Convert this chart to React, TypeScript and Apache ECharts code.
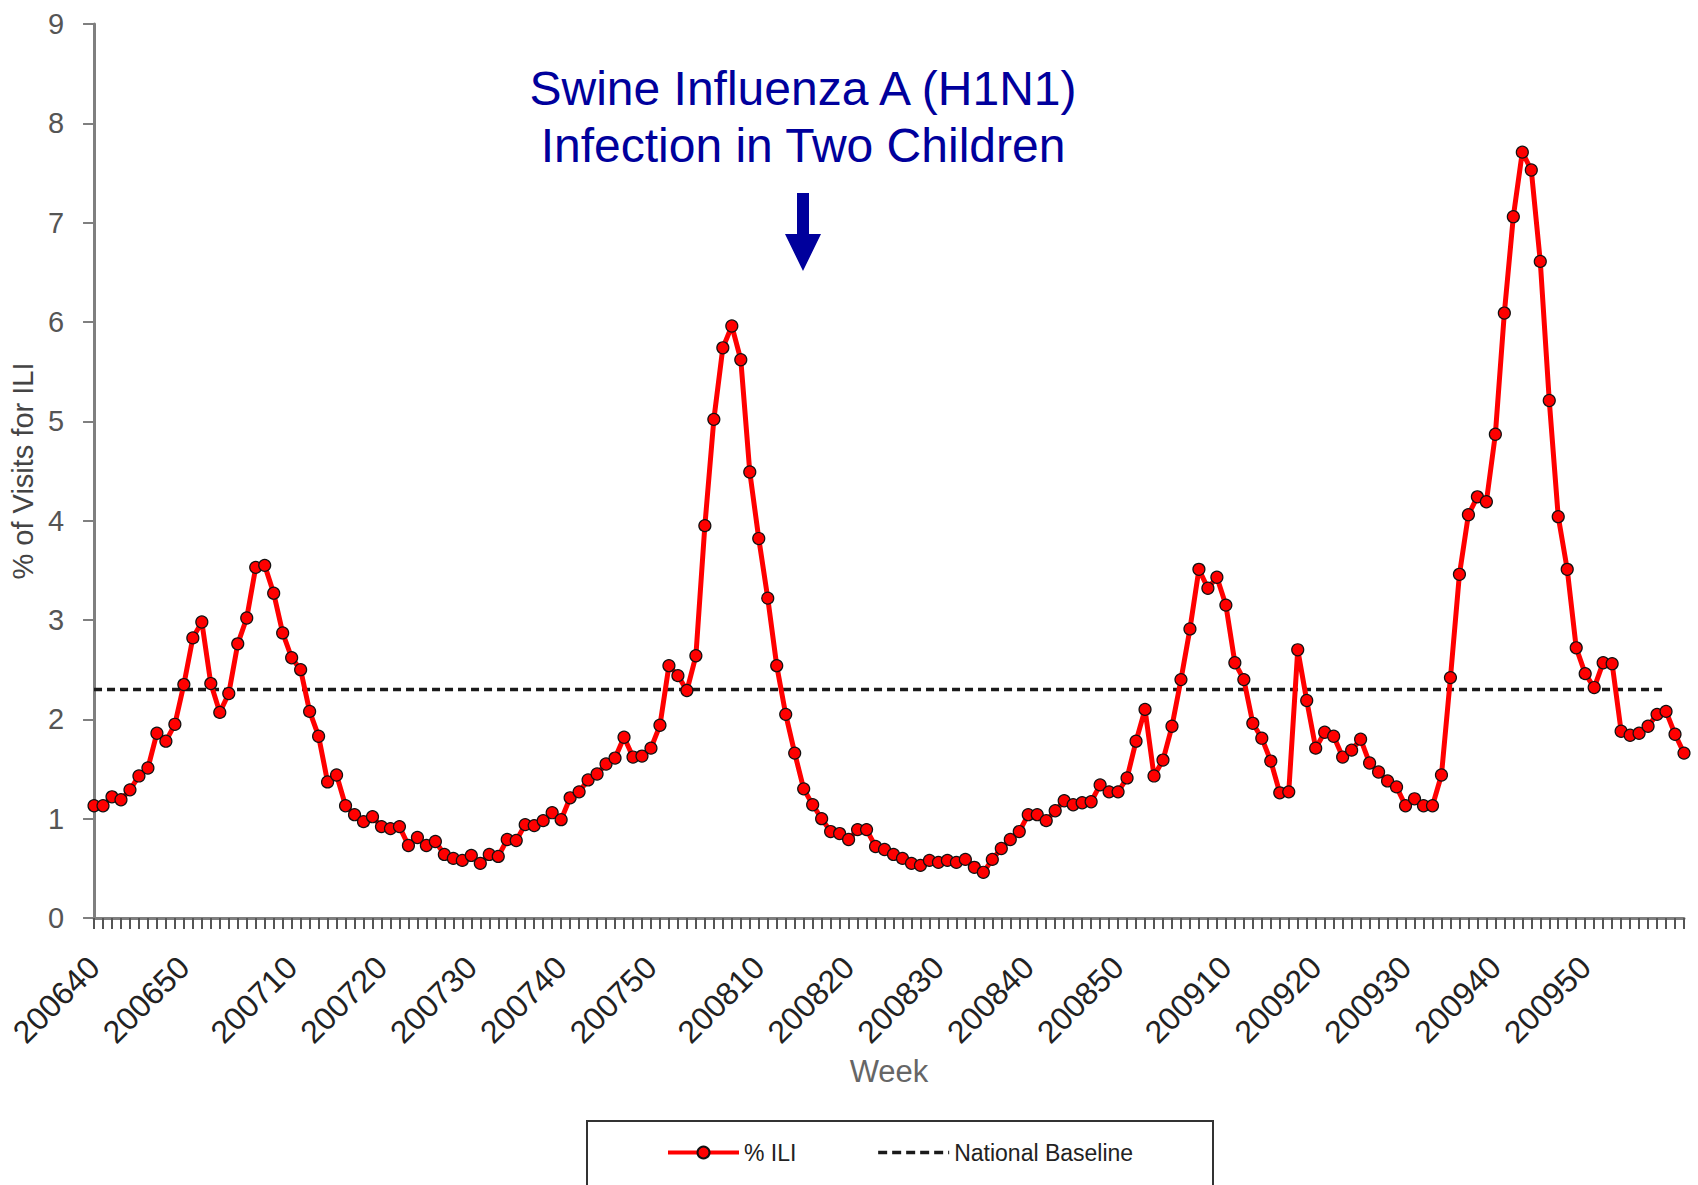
import React, { useEffect, useRef } from "react";
import * as echarts from "echarts";

// Category ranges (year, first week, last week)
const WEEK_RANGES: [number, number, number][] = [
  [2006, 40, 52],
  [2007, 1, 52],
  [2008, 1, 52],
  [2009, 1, 53],
  [2010, 1, 8],
];
const weeks: string[] = WEEK_RANGES.flatMap(([y, a, b]) => {
  const out: string[] = [];
  for (let w = a; w <= b; w++) out.push(`${y}${w < 10 ? "0" + w : w}`);
  return out;
});

// % of visits for ILI
const iliValues: number[] = [
  1.13, 1.13, 1.22, 1.19, 1.29, 1.43, 1.51, 1.86, 1.78, 1.95,
  2.35, 2.82, 2.98, 2.36, 2.07, 2.26, 2.76, 3.02, 3.53, 3.55,
  3.27, 2.87, 2.62, 2.5, 2.08, 1.83, 1.37, 1.44, 1.13, 1.04,
  0.97, 1.02, 0.92, 0.9, 0.92, 0.73, 0.81, 0.73, 0.77, 0.64,
  0.6, 0.58, 0.63, 0.55, 0.64, 0.62, 0.79, 0.78, 0.94, 0.93,
  0.98, 1.06, 0.99, 1.21, 1.27, 1.39, 1.45, 1.55, 1.61, 1.82,
  1.62, 1.63, 1.71, 1.94, 2.54, 2.44, 2.29, 2.64, 3.95, 5.02,
  5.74, 5.96, 5.62, 4.49, 3.82, 3.22, 2.54, 2.05, 1.66, 1.3,
  1.14, 1.0, 0.87, 0.85, 0.79, 0.89, 0.89, 0.72, 0.69, 0.64,
  0.6, 0.55, 0.53, 0.58, 0.56, 0.58, 0.56, 0.59, 0.51, 0.46,
  0.59, 0.7, 0.79, 0.87, 1.04, 1.04, 0.98, 1.08, 1.18, 1.14,
  1.16, 1.17, 1.34, 1.27, 1.27, 1.41, 1.78, 2.1, 1.43, 1.59,
  1.93, 2.4, 2.91, 3.51, 3.32, 3.43, 3.15, 2.57, 2.4, 1.96,
  1.81, 1.58, 1.26, 1.27, 2.7, 2.19, 1.71, 1.87, 1.83, 1.62,
  1.69, 1.8, 1.56, 1.47, 1.38, 1.32, 1.13, 1.2, 1.13, 1.13,
  1.44, 2.42, 3.46, 4.06, 4.24, 4.19, 4.87, 6.09, 7.06, 7.71,
  7.53, 6.61, 5.21, 4.04, 3.51, 2.72, 2.46, 2.32, 2.57, 2.56,
  1.88, 1.84, 1.86, 1.93, 2.05, 2.08, 1.85, 1.66,
];

const BASELINE_VALUE = 2.3;
const BASELINE_LAST_WEEK = "201006";
const yTicks = [0, 1, 2, 3, 4, 5, 6, 7, 8, 9];

const TITLE_LINES = ["Swine Influenza A (H1N1)", "Infection in Two Children"];
const SERIES_NAMES = ["% ILI", "National Baseline"];

const FONT = "'Liberation Sans', Arial, sans-serif";
const NAVY = "#00009c";

export default function App() {
  const ref = useRef<HTMLDivElement>(null);

  useEffect(() => {
    if (!ref.current) return;
    const chart = echarts.init(ref.current, undefined, { renderer: "svg" });
    const lastBaselineIdx = weeks.indexOf(BASELINE_LAST_WEEK);
    const baselineData = weeks.map((_, i) => (i <= lastBaselineIdx ? BASELINE_VALUE : null));

    chart.setOption({
      animation: false,
      backgroundColor: "#ffffff",
      textStyle: { fontFamily: FONT },
      grid: { left: 92, right: 14, top: 24, bottom: 267, containLabel: false },
      legend: {
        data: [
          { name: SERIES_NAMES[0], lineStyle: { width: 4 } },
          { name: SERIES_NAMES[1], itemStyle: { opacity: 0 }, lineStyle: { width: 3.5, type: [9, 5] } },
        ],
        left: 666,
        top: 1141,
        padding: 0,
        itemWidth: 71,
        itemHeight: 15,
        itemGap: 80,
        textStyle: { fontSize: 23, color: "#222", fontFamily: FONT },
      },
      xAxis: {
        type: "category",
        data: weeks,
        boundaryGap: false,
        name: "Week",
        nameLocation: "middle",
        nameGap: 132,
        nameTextStyle: { fontSize: 31, color: "#666", fontFamily: FONT },
        axisLine: { lineStyle: { color: "#7f7f7f", width: 3 } },
        axisTick: { show: true, interval: 0, length: 11, lineStyle: { color: "#555", width: 2 } },
        axisLabel: {
          interval: (i: number, v: string) => i === 0 || Number(v.slice(4)) % 10 === 0,
          rotate: 45,
          margin: 44,
          fontSize: 32,
          color: "#222",
          fontFamily: FONT,
        },
        splitLine: { show: false },
      },
      yAxis: {
        type: "value",
        min: yTicks[0],
        max: yTicks[yTicks.length - 1],
        interval: 1,
        name: "% of Visits for ILI",
        nameLocation: "middle",
        nameRotate: 90,
        nameGap: 46,
        nameTextStyle: { fontSize: 29, color: "#444", fontFamily: FONT },
        axisLine: { show: true, lineStyle: { color: "#7f7f7f", width: 3 } },
        axisTick: { show: true, length: 11, lineStyle: { color: "#7f7f7f", width: 2 } },
        axisLabel: { fontSize: 29, color: "#555", margin: 30, fontFamily: FONT },
        splitLine: { show: false },
      },
      series: [
        {
          name: SERIES_NAMES[0],
          type: "line",
          data: iliValues,
          showAllSymbol: true,
          symbol: "circle",
          symbolSize: 12,
          lineStyle: { color: "#ff0000", width: 5 },
          itemStyle: { color: "#ff0000", borderColor: "#111", borderWidth: 1.2 },
          z: 3,
        },
        {
          name: SERIES_NAMES[1],
          type: "line",
          data: baselineData,
          showSymbol: false,
          symbol: "none",
          lineStyle: { color: "#1a1a1a", width: 3.5, type: [8, 5] },
          itemStyle: { color: "#1a1a1a" },
          z: 2,
        },
      ],
      graphic: [
        {
          type: "text",
          x: 803,
          y: 60,
          style: {
            text: TITLE_LINES.join("\n"),
            fill: NAVY,
            font: `48px ${FONT}`,
            textAlign: "center",
            textVerticalAlign: "top",
            lineHeight: 57,
          },
        },
        {
          type: "polygon",
          shape: {
            points: [
              [797, 193],
              [809, 193],
              [809, 234],
              [821, 234],
              [803, 271],
              [785, 234],
              [797, 234],
            ],
          },
          style: { fill: NAVY },
        },
        {
          type: "rect",
          shape: { x: 587, y: 1121, width: 626, height: 90 },
          style: { fill: "none", stroke: "#333", lineWidth: 2 },
          z: -1,
        },
      ],
    });
    return () => chart.dispose();
  }, []);

  return (
    <div
      ref={ref}
      style={{ position: "fixed", left: 0, top: 0, width: 1698, height: 1185, background: "#fff" }}
    />
  );
}
